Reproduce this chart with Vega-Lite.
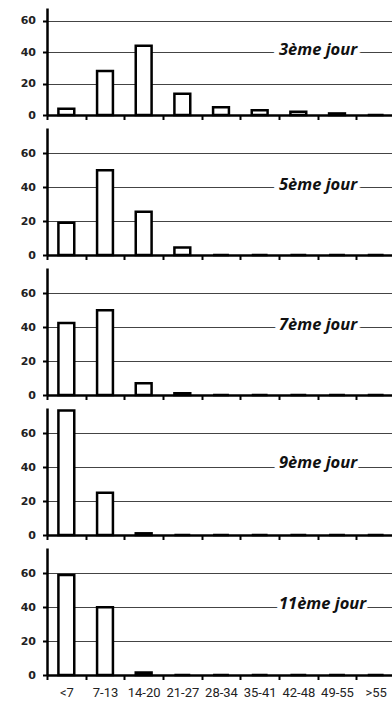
{
  "$schema": "https://vega.github.io/schema/vega-lite/v6.json",
  "padding": {"left": 20, "top": 8, "right": 0, "bottom": 0},
  "background": "white",
  "datasets": {
    "pct": [
      {"jour": "3ème jour", "classe": "<7", "pct": 4},
      {"jour": "3ème jour", "classe": "7-13", "pct": 28},
      {"jour": "3ème jour", "classe": "14-20", "pct": 44},
      {"jour": "3ème jour", "classe": "21-27", "pct": 13.5},
      {"jour": "3ème jour", "classe": "28-34", "pct": 5},
      {"jour": "3ème jour", "classe": "35-41", "pct": 3},
      {"jour": "3ème jour", "classe": "42-48", "pct": 2},
      {"jour": "3ème jour", "classe": "49-55", "pct": 1},
      {"jour": "3ème jour", "classe": ">55", "pct": 0},
      {"jour": "5ème jour", "classe": "<7", "pct": 19},
      {"jour": "5ème jour", "classe": "7-13", "pct": 50},
      {"jour": "5ème jour", "classe": "14-20", "pct": 25.5},
      {"jour": "5ème jour", "classe": "21-27", "pct": 4.5},
      {"jour": "5ème jour", "classe": "28-34", "pct": 0},
      {"jour": "5ème jour", "classe": "35-41", "pct": 0},
      {"jour": "5ème jour", "classe": "42-48", "pct": 0},
      {"jour": "5ème jour", "classe": "49-55", "pct": 0},
      {"jour": "5ème jour", "classe": ">55", "pct": 0},
      {"jour": "7ème jour", "classe": "<7", "pct": 42.5},
      {"jour": "7ème jour", "classe": "7-13", "pct": 50},
      {"jour": "7ème jour", "classe": "14-20", "pct": 7},
      {"jour": "7ème jour", "classe": "21-27", "pct": 1},
      {"jour": "7ème jour", "classe": "28-34", "pct": 0},
      {"jour": "7ème jour", "classe": "35-41", "pct": 0},
      {"jour": "7ème jour", "classe": "42-48", "pct": 0},
      {"jour": "7ème jour", "classe": "49-55", "pct": 0},
      {"jour": "7ème jour", "classe": ">55", "pct": 0},
      {"jour": "9ème jour", "classe": "<7", "pct": 73.5},
      {"jour": "9ème jour", "classe": "7-13", "pct": 25},
      {"jour": "9ème jour", "classe": "14-20", "pct": 1},
      {"jour": "9ème jour", "classe": "21-27", "pct": 0},
      {"jour": "9ème jour", "classe": "28-34", "pct": 0},
      {"jour": "9ème jour", "classe": "35-41", "pct": 0},
      {"jour": "9ème jour", "classe": "42-48", "pct": 0},
      {"jour": "9ème jour", "classe": "49-55", "pct": 0},
      {"jour": "9ème jour", "classe": ">55", "pct": 0},
      {"jour": "11ème jour", "classe": "<7", "pct": 59},
      {"jour": "11ème jour", "classe": "7-13", "pct": 40},
      {"jour": "11ème jour", "classe": "14-20", "pct": 1.5},
      {"jour": "11ème jour", "classe": "21-27", "pct": 0},
      {"jour": "11ème jour", "classe": "28-34", "pct": 0},
      {"jour": "11ème jour", "classe": "35-41", "pct": 0},
      {"jour": "11ème jour", "classe": "42-48", "pct": 0},
      {"jour": "11ème jour", "classe": "49-55", "pct": 0},
      {"jour": "11ème jour", "classe": ">55", "pct": 0}
    ]
  },
  "spacing": 7,
  "resolve": {"scale": {"y": "independent"}},
  "config": {
    "view": {"stroke": null},
    "axis": {
      "domainColor": "black",
      "domainWidth": 2.5,
      "tickColor": "black",
      "tickWidth": 2,
      "tickSize": 4.5,
      "title": null
    },
    "axisX": {
      "grid": false,
      "labelAngle": 0,
      "labelFont": "Liberation Sans Narrow, Roboto, sans-serif",
      "labelFontSize": 13,
      "labelColor": "#222",
      "labelPadding": 7,
      "labelOverlap": false,
      "labelAlign": "center",
      "tickBand": "extent"
    },
    "axisY": {
      "grid": true,
      "gridColor": "#444",
      "gridWidth": 1.2,
      "values": [0, 20, 40, 60],
      "labelFont": "DejaVu Sans",
      "labelFontWeight": "bold",
      "labelFontSize": 11,
      "labelColor": "#222",
      "labelPadding": 7
    }
  },
  "vconcat": [
    {
      "width": 348, "height": 107,
      "layer": [
        {
          "data": {"name": "pct"},
          "transform": [{"filter": "datum.jour == '3ème jour'"}],
          "mark": {"type": "bar", "fill": "white", "stroke": "black", "strokeWidth": 2.5, "width": {"band": 0.41}},
          "encoding": {
            "x": {"field": "classe", "type": "nominal", "sort": null, "scale": {"domain": ["<7", "7-13", "14-20", "21-27", "28-34", "35-41", "42-48", "49-55", ">55"], "paddingInner": 0, "paddingOuter": 0}, "axis": {"labels": false}},
            "y": {"field": "pct", "type": "quantitative", "scale": {"domain": [0, 68], "nice": false}}
          }
        },
        {
          "data": {"values": [{"jour": "3ème jour"}]},
          "mark": {"type": "text", "align": "left", "baseline": "middle", "dx": 0, "dy": -2, "font": "Open Sans", "fontSize": 16.5, "fontWeight": "bold", "fontStyle": "italic", "fill": "white", "stroke": "white", "strokeWidth": 10, "strokeJoin": "round"},
          "encoding": {"x": {"datum": "42-48", "type": "nominal", "bandPosition": 0}, "y": {"datum": 40, "type": "quantitative"}, "text": {"field": "jour"}}
        },
        {
          "data": {"values": [{"jour": "3ème jour"}]},
          "mark": {"type": "text", "align": "left", "baseline": "middle", "dx": 0, "dy": -2, "font": "Open Sans", "fontSize": 16.5, "fontWeight": "bold", "fontStyle": "italic", "fill": "#111"},
          "encoding": {"x": {"datum": "42-48", "type": "nominal", "bandPosition": 0}, "y": {"datum": 40, "type": "quantitative"}, "text": {"field": "jour"}}
        }
      ]
    },
    {
      "width": 348, "height": 127,
      "layer": [
        {
          "data": {"name": "pct"},
          "transform": [{"filter": "datum.jour == '5ème jour'"}],
          "mark": {"type": "bar", "fill": "white", "stroke": "black", "strokeWidth": 2.5, "width": {"band": 0.41}},
          "encoding": {
            "x": {"field": "classe", "type": "nominal", "sort": null, "scale": {"domain": ["<7", "7-13", "14-20", "21-27", "28-34", "35-41", "42-48", "49-55", ">55"], "paddingInner": 0, "paddingOuter": 0}, "axis": {"labels": false}},
            "y": {"field": "pct", "type": "quantitative", "scale": {"domain": [0, 75], "nice": false}}
          }
        },
        {
          "data": {"values": [{"jour": "5ème jour"}]},
          "mark": {"type": "text", "align": "left", "baseline": "middle", "dx": 0, "dy": -2, "font": "Open Sans", "fontSize": 16.5, "fontWeight": "bold", "fontStyle": "italic", "fill": "white", "stroke": "white", "strokeWidth": 10, "strokeJoin": "round"},
          "encoding": {"x": {"datum": "42-48", "type": "nominal", "bandPosition": 0}, "y": {"datum": 40, "type": "quantitative"}, "text": {"field": "jour"}}
        },
        {
          "data": {"values": [{"jour": "5ème jour"}]},
          "mark": {"type": "text", "align": "left", "baseline": "middle", "dx": 0, "dy": -2, "font": "Open Sans", "fontSize": 16.5, "fontWeight": "bold", "fontStyle": "italic", "fill": "#111"},
          "encoding": {"x": {"datum": "42-48", "type": "nominal", "bandPosition": 0}, "y": {"datum": 40, "type": "quantitative"}, "text": {"field": "jour"}}
        }
      ]
    },
    {
      "width": 348, "height": 127,
      "layer": [
        {
          "data": {"name": "pct"},
          "transform": [{"filter": "datum.jour == '7ème jour'"}],
          "mark": {"type": "bar", "fill": "white", "stroke": "black", "strokeWidth": 2.5, "width": {"band": 0.41}},
          "encoding": {
            "x": {"field": "classe", "type": "nominal", "sort": null, "scale": {"domain": ["<7", "7-13", "14-20", "21-27", "28-34", "35-41", "42-48", "49-55", ">55"], "paddingInner": 0, "paddingOuter": 0}, "axis": {"labels": false}},
            "y": {"field": "pct", "type": "quantitative", "scale": {"domain": [0, 75], "nice": false}}
          }
        },
        {
          "data": {"values": [{"jour": "7ème jour"}]},
          "mark": {"type": "text", "align": "left", "baseline": "middle", "dx": 0, "dy": -2, "font": "Open Sans", "fontSize": 16.5, "fontWeight": "bold", "fontStyle": "italic", "fill": "white", "stroke": "white", "strokeWidth": 10, "strokeJoin": "round"},
          "encoding": {"x": {"datum": "42-48", "type": "nominal", "bandPosition": 0}, "y": {"datum": 40, "type": "quantitative"}, "text": {"field": "jour"}}
        },
        {
          "data": {"values": [{"jour": "7ème jour"}]},
          "mark": {"type": "text", "align": "left", "baseline": "middle", "dx": 0, "dy": -2, "font": "Open Sans", "fontSize": 16.5, "fontWeight": "bold", "fontStyle": "italic", "fill": "#111"},
          "encoding": {"x": {"datum": "42-48", "type": "nominal", "bandPosition": 0}, "y": {"datum": 40, "type": "quantitative"}, "text": {"field": "jour"}}
        }
      ]
    },
    {
      "width": 348, "height": 127,
      "layer": [
        {
          "data": {"name": "pct"},
          "transform": [{"filter": "datum.jour == '9ème jour'"}],
          "mark": {"type": "bar", "fill": "white", "stroke": "black", "strokeWidth": 2.5, "width": {"band": 0.41}},
          "encoding": {
            "x": {"field": "classe", "type": "nominal", "sort": null, "scale": {"domain": ["<7", "7-13", "14-20", "21-27", "28-34", "35-41", "42-48", "49-55", ">55"], "paddingInner": 0, "paddingOuter": 0}, "axis": {"labels": false}},
            "y": {"field": "pct", "type": "quantitative", "scale": {"domain": [0, 75], "nice": false}}
          }
        },
        {
          "data": {"values": [{"jour": "9ème jour"}]},
          "mark": {"type": "text", "align": "left", "baseline": "middle", "dx": 0, "dy": -4, "font": "Open Sans", "fontSize": 16.5, "fontWeight": "bold", "fontStyle": "italic", "fill": "white", "stroke": "white", "strokeWidth": 10, "strokeJoin": "round"},
          "encoding": {"x": {"datum": "42-48", "type": "nominal", "bandPosition": 0}, "y": {"datum": 40, "type": "quantitative"}, "text": {"field": "jour"}}
        },
        {
          "data": {"values": [{"jour": "9ème jour"}]},
          "mark": {"type": "text", "align": "left", "baseline": "middle", "dx": 0, "dy": -4, "font": "Open Sans", "fontSize": 16.5, "fontWeight": "bold", "fontStyle": "italic", "fill": "#111"},
          "encoding": {"x": {"datum": "42-48", "type": "nominal", "bandPosition": 0}, "y": {"datum": 40, "type": "quantitative"}, "text": {"field": "jour"}}
        }
      ]
    },
    {
      "width": 348, "height": 127,
      "layer": [
        {
          "data": {"name": "pct"},
          "transform": [{"filter": "datum.jour == '11ème jour'"}],
          "mark": {"type": "bar", "fill": "white", "stroke": "black", "strokeWidth": 2.5, "width": {"band": 0.41}},
          "encoding": {
            "x": {"field": "classe", "type": "nominal", "sort": null, "scale": {"domain": ["<7", "7-13", "14-20", "21-27", "28-34", "35-41", "42-48", "49-55", ">55"], "paddingInner": 0, "paddingOuter": 0}, "axis": {"labels": true}},
            "y": {"field": "pct", "type": "quantitative", "scale": {"domain": [0, 75], "nice": false}}
          }
        },
        {
          "data": {"values": [{"jour": "11ème jour"}]},
          "mark": {"type": "text", "align": "left", "baseline": "middle", "dx": 0, "dy": -3, "font": "Open Sans", "fontSize": 16.5, "fontWeight": "bold", "fontStyle": "italic", "fill": "white", "stroke": "white", "strokeWidth": 10, "strokeJoin": "round"},
          "encoding": {"x": {"datum": "42-48", "type": "nominal", "bandPosition": 0}, "y": {"datum": 40, "type": "quantitative"}, "text": {"field": "jour"}}
        },
        {
          "data": {"values": [{"jour": "11ème jour"}]},
          "mark": {"type": "text", "align": "left", "baseline": "middle", "dx": 0, "dy": -3, "font": "Open Sans", "fontSize": 16.5, "fontWeight": "bold", "fontStyle": "italic", "fill": "#111"},
          "encoding": {"x": {"datum": "42-48", "type": "nominal", "bandPosition": 0}, "y": {"datum": 40, "type": "quantitative"}, "text": {"field": "jour"}}
        }
      ]
    }
  ]
}
